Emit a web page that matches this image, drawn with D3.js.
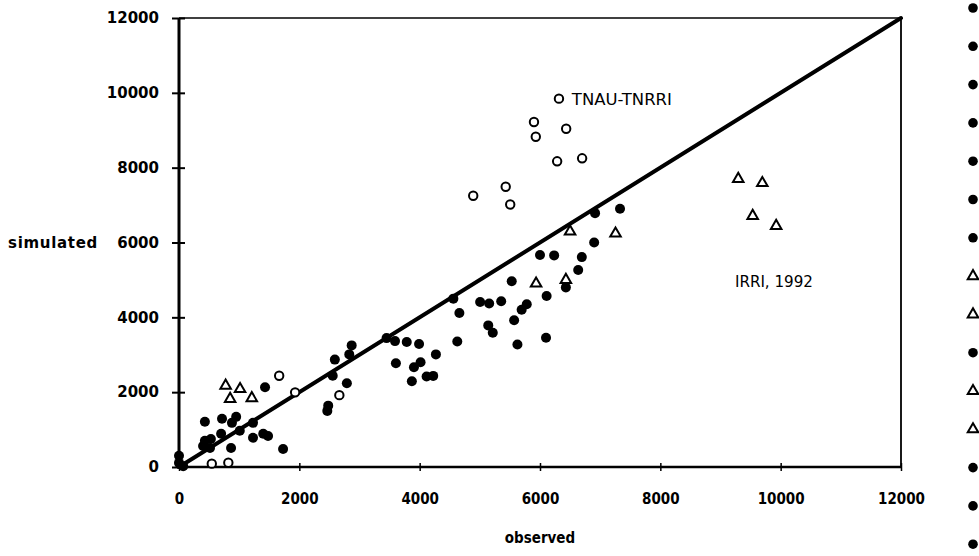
<!DOCTYPE html>
<html>
<head>
<meta charset="utf-8">
<script src="https://cdn.jsdelivr.net/npm/d3@7"></script>
<style>
  html, body { margin: 0; padding: 0; background: #fff; }
  svg { display: block; }
</style>
</head>
<body>
<svg id="chart" width="979" height="556"></svg>
<script>
// ---------- data ----------
const xTicks = [0, 2000, 4000, 6000, 8000, 10000, 12000];
const yTicks = [0, 2000, 4000, 6000, 8000, 10000, 12000];
const xLabel = "observed";
const yLabel = "simulated";

// filled circles
const filledX = [0, 0, 70, 430, 715, 950, 880, 1010, 700, 530, 430, 400, 515, 865, 1230, 1400, 1480, 1730, 1430, 1230,
  2870, 2830, 2590, 2555, 2790, 2480, 2465,
  3450, 3590, 3785, 3990, 4270, 3605, 4015, 3905, 4115, 4225, 3870,
  4660, 4625, 5005, 5155, 5355, 5780, 5695, 5570, 5140, 5215, 5625, 6100, 4560, 5530, 6110,
  6915, 7330, 6900, 6695, 6235, 6000, 6635, 6430];
const filledY = [300, 110, 20, 1210, 1290, 1340, 1180, 970, 890, 750, 700, 560, 510, 510, 780, 890, 830, 480, 2130, 1180,
  3250, 3010, 2870, 2440, 2240, 1640, 1500,
  3445, 3365, 3340, 3285, 3010, 2775, 2800, 2665, 2420, 2435, 2290,
  4115, 3355, 4410, 4370, 4430, 4350, 4205, 3920, 3785, 3590, 3275, 3455, 4500, 4965, 4570,
  6785, 6900, 6000, 5610, 5655, 5665, 5265, 4800];

// open circles (TNAU-TNRRI)
const circleX = [545, 820, 1665, 1930, 2665, 6315, 5900, 6435, 5930, 6285, 6700, 5430, 4890, 5505];
const circleY = [90, 115, 2440, 1995, 1920, 9845, 9220, 9040, 8825, 8170, 8250, 7490, 7250, 7015];

// open triangles (IRRI 1992)
const triX = [775, 1015, 850, 1210, 6500, 7255, 6430, 5935, 9295, 9695, 9535, 9925];
const triY = [2175, 2085, 1820, 1840, 6295, 6240, 5000, 4905, 7700, 7590, 6710, 6445];

// 1:1 line
const lineX = [0, 12000];
const lineY = [0, 12000];

// annotations
const noteText = ["TNAU-TNRRI", "IRRI, 1992"];
const noteX = [6530, 9240];
const noteY = [9680, 4820];

// cut-off legend symbols on the right
const legendSymbols = ["filled", "filled", "filled", "filled", "filled", "filled", "filled",
  "triangle", "triangle", "filled", "triangle", "triangle", "filled", "filled", "filled"];

// ---------- layout ----------
const W = 979, H = 556;
const margin = { left: 179, top: 18, right: 78, bottom: 89 };
const svg = d3.select("#chart");

const x = d3.scaleLinear().domain([0, 12000]).range([margin.left, W - margin.right]);
const y = d3.scaleLinear().domain([0, 12000]).range([H - margin.bottom, margin.top]);

const boldFont = "'DejaVu Sans', 'Liberation Sans', sans-serif";
const condFont = "'DejaVu Sans Condensed', 'DejaVu Sans', sans-serif";

// frame (top + right)
svg.append("line").attr("x1", x(0)).attr("x2", x(12000)).attr("y1", y(12000)).attr("y2", y(12000))
  .attr("stroke", "#000").attr("stroke-width", 1.6);
svg.append("line").attr("x1", x(12000)).attr("x2", x(12000)).attr("y1", y(12000)).attr("y2", y(0))
  .attr("stroke", "#000").attr("stroke-width", 1.8);

// y axis
const yAxis = svg.append("g").attr("transform", `translate(${x(0)},0)`)
  .call(d3.axisLeft(y).tickValues(yTicks).tickFormat(d3.format("d")).tickSize(7).tickPadding(13));
yAxis.select(".domain").attr("stroke-width", 3).attr("d", `M0,${y(0)+2}V${y(12000)}`);
yAxis.selectAll(".tick line").attr("x1", 6).attr("stroke-width", 2);
yAxis.selectAll(".tick text").attr("font-family", boldFont).attr("font-weight", "bold")
  .attr("font-size", 15).attr("fill", "#000");

// x axis
const xAxis = svg.append("g").attr("transform", `translate(0,${y(0)})`)
  .call(d3.axisBottom(x).tickValues(xTicks).tickFormat(d3.format("d")).tickSize(4).tickPadding(22));
xAxis.select(".domain").attr("stroke-width", 2.6).attr("d", `M${x(0)-2},0H${x(12000)}`);
xAxis.selectAll(".tick line").attr("y1", -4).attr("stroke-width", 1.5);
xAxis.selectAll(".tick text").attr("font-family", condFont).attr("font-weight", "bold")
  .attr("font-stretch", "condensed").attr("font-size", 15).attr("fill", "#000");

// axis titles
svg.append("text").attr("x", 8).attr("y", y(6000)).attr("dy", "0.35em")
  .attr("font-family", boldFont).attr("font-weight", "bold").attr("font-size", 15)
  .attr("letter-spacing", 0.7).text(yLabel);
svg.append("text").attr("x", x(6000)).attr("y", 543).attr("text-anchor", "middle")
  .attr("font-family", condFont).attr("font-stretch", "condensed").attr("font-weight", "bold").attr("font-size", 15)
  .text(xLabel);

// 1:1 line
svg.append("line")
  .attr("x1", x(lineX[0])).attr("y1", y(lineY[0]))
  .attr("x2", x(lineX[1])).attr("y2", y(lineY[1]))
  .attr("stroke", "#000").attr("stroke-width", 4).attr("stroke-linecap", "round");

// filled circles
const filled = filledX.map((d, i) => ({ x: d, y: filledY[i] }));
svg.append("g").selectAll("circle").data(filled).join("circle")
  .attr("cx", d => x(d.x)).attr("cy", d => y(d.y)).attr("r", 5).attr("fill", "#000");

// open circles
const circ = circleX.map((d, i) => ({ x: d, y: circleY[i] }));
svg.append("g").selectAll("circle").data(circ).join("circle")
  .attr("cx", d => x(d.x)).attr("cy", d => y(d.y)).attr("r", 4.2)
  .attr("fill", "#fff").attr("stroke", "#000").attr("stroke-width", 2);

// open triangles
const triSym = d3.symbol().type(d3.symbolTriangle).size(48);
const tris = triX.map((d, i) => ({ x: d, y: triY[i] }));
svg.append("g").selectAll("path").data(tris).join("path")
  .attr("transform", d => `translate(${x(d.x)},${y(d.y)})`)
  .attr("d", triSym).attr("fill", "#fff").attr("stroke", "#000").attr("stroke-width", 2);

// annotations
const noteWidth = [100, 78];
svg.append("g").selectAll("text").data(noteText).join("text")
  .attr("x", (d, i) => x(noteX[i])).attr("y", (d, i) => y(noteY[i]))
  .attr("font-family", condFont).attr("font-stretch", "condensed").attr("font-size", 16)
  .attr("textLength", (d, i) => noteWidth[i]).attr("lengthAdjust", "spacingAndGlyphs")
  .attr("fill", "#000").text(d => d);

// cut-off legend column
const legX = 973, legY0 = 8, legStep = 38.3;
const legG = svg.append("g");
legendSymbols.forEach((s, i) => {
  const cy = legY0 + i * legStep;
  if (s === "filled") {
    legG.append("circle").attr("cx", legX).attr("cy", cy).attr("r", 4.8).attr("fill", "#000");
  } else {
    legG.append("path").attr("transform", `translate(${legX},${cy})`)
      .attr("d", triSym).attr("fill", "#fff").attr("stroke", "#000").attr("stroke-width", 2);
  }
});
</script>
</body>
</html>
